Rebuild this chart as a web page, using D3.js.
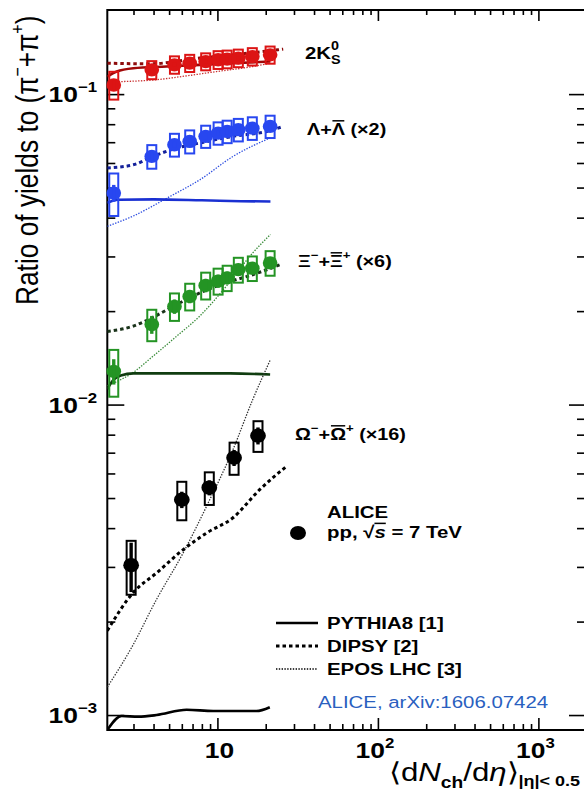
<!DOCTYPE html>
<html>
<head>
<meta charset="utf-8">
<script src="https://cdn.jsdelivr.net/npm/d3@7"></script>
<style>
  html, body { margin: 0; padding: 0; background: #fff; }
  svg text { font-family: "Liberation Sans", Arial, Helvetica, sans-serif; white-space: pre; }
</style>
</head>
<body>
<svg id="chart" width="584" height="792"></svg>
<script>
// ALICE pp at 7 TeV: multiplicity classes, <dNch/deta> in |eta|<0.5
const multClasses  = [2.26, 3.90, 5.40, 6.72, 8.45, 10.1, 11.5, 13.5, 16.5, 21.3];
const omegaClasses = [2.9, 6.0, 8.9, 12.7, 17.9];

// yield ratios to (pi- + pi+), with statistical and systematic uncertainties
const k0sRatio = [0.107, 0.1197, 0.1243, 0.1258, 0.1273, 0.1290, 0.1296, 0.1306, 0.1321, 0.1338];
const k0sStat  = [0.004, 0.002, 0.002, 0.002, 0.002, 0.002, 0.002, 0.002, 0.002, 0.002];
const k0sSyst  = [0.011, 0.008, 0.008, 0.008, 0.008, 0.0085, 0.0085, 0.0085, 0.0085, 0.0085];

const lambdaRatio = [0.048, 0.063, 0.0687, 0.0704, 0.0731, 0.0749, 0.0758, 0.0768, 0.0777, 0.0787];
const lambdaStat  = [0.003, 0.002, 0.0015, 0.0015, 0.0015, 0.0015, 0.0015, 0.0015, 0.0015, 0.0018];
const lambdaSyst  = [0.0075, 0.0055, 0.0058, 0.006, 0.006, 0.0062, 0.0063, 0.0064, 0.0065, 0.0065];

const xiRatio = [0.0128, 0.0181, 0.0207, 0.0223, 0.0242, 0.0250, 0.0256, 0.0272, 0.0275, 0.0286];
const xiStat  = [0.0012, 0.0012, 0.0011, 0.0011, 0.0012, 0.0012, 0.0012, 0.0012, 0.0012, 0.0012];
const xiSyst  = [0.0022, 0.0021, 0.0021, 0.0022, 0.0024, 0.0024, 0.0024, 0.0025, 0.0025, 0.0026];

const omegaRatio = [0.00304, 0.00494, 0.0054, 0.00674, 0.00794];
const omegaStat  = [0.00055, 0.0003, 0.0003, 0.0004, 0.0005];
const omegaSyst  = [0.0006, 0.0007, 0.00065, 0.0008, 0.0009];

// model predictions: [<dNch/deta>, ratio]
const pythiaK0s = [[2.06, 0.1139], [2.36, 0.1182], [2.99, 0.1212], [4.82, 0.1227], [7.78, 0.1242], [12.5, 0.1258], [21.4, 0.1273]];
const dipsyK0s  = [[2.06, 0.1258], [3.79, 0.1252], [7.78, 0.1306], [12.5, 0.1338], [25.7, 0.1396]];
const eposK0s   = [[2.06, 0.1095], [3.96, 0.111], [6.43, 0.1145], [9.88, 0.1182], [16.6, 0.1227], [21.4, 0.1258]];

const pythiaLambda = [[2.06, 0.0447], [2.4, 0.0457], [4.0, 0.0458], [8.0, 0.0455], [14.0, 0.0452], [21.4, 0.0451]];
const dipsyLambda  = [[2.06, 0.0578], [2.99, 0.0592], [3.96, 0.063], [5.57, 0.067], [7.78, 0.0696], [12.5, 0.0731], [20.3, 0.0758], [25.7, 0.0787]];
const eposLambda   = [[2.06, 0.0375], [2.99, 0.0405], [5.06, 0.0468], [7.78, 0.053], [12.5, 0.063], [21.4, 0.0723]];

const pythiaXi = [[2.06, 0.0112], [2.25, 0.0120], [2.5, 0.0124], [3.0, 0.0126], [6.0, 0.0126], [12.0, 0.0126], [21.3, 0.0125]];
const dipsyXi  = [[2.06, 0.0172], [2.99, 0.0179], [3.96, 0.0191], [5.57, 0.021], [7.78, 0.0229], [11.4, 0.0247], [16.6, 0.0262], [24.5, 0.0282]];
const eposXi   = [[2.06, 0.0115], [2.99, 0.0127], [3.96, 0.0143], [5.57, 0.0166], [7.78, 0.0193], [11.4, 0.0241], [16.6, 0.0308], [21.4, 0.0353]];

const pythiaOmega = [[2.06, 0.000895], [2.53, 0.000993], [3.21, 0.000988], [4.18, 0.001], [6.43, 0.00104], [9.42, 0.00103], [17.5, 0.00103], [21.2, 0.00106]];
const dipsyOmega  = [[2.06, 0.00187], [2.99, 0.00248], [4.18, 0.00287], [6.12, 0.00341], [8.57, 0.00386], [12.5, 0.00432], [18.4, 0.00533], [27.0, 0.00633]];
const eposOmega   = [[2.06, 0.00123], [2.92, 0.00165], [4.18, 0.00236], [6.12, 0.00333], [8.57, 0.00471], [12.5, 0.00716], [16.6, 0.01038], [21.4, 0.01396]];

// axis ticks
const yMajorTicks = [0.001, 0.01, 0.1];
const yMajorExp   = ["\u22123", "\u22122", "\u22121"];
const yMinorTicks = [2,3,4,5,6,7,8,9].flatMap(m => [m * 1e-3, m * 1e-2]);
const xMajorTicks = [10, 100, 1000];
const xMajorLabels = [["10", ""], ["10", "2"], ["10", "3"]];
const xMinorTicks = [3,4,5,6,7,8,9].concat([2,3,4,5,6,7,8,9].flatMap(m => [m * 10, m * 100]));

const svg = d3.select("#chart");
const L = 107.3, R = 586, T = 10, B = 730;
const SX = 1.2;   // lettering is drawn wide, like the rest of the figure

const x = d3.scaleLog().domain([2.06, 1980]).range([L, R]);
const y = d3.scaleLog().domain([0.000895, 0.1866]).range([B, T]);

svg.append("defs").append("clipPath").attr("id", "plotArea")
  .append("rect").attr("x", L).attr("y", T).attr("width", R - L).attr("height", B - T);

// ---- axes (ticks pointing into the frame) ----
function tickAxis(axis, transform, size, values) {
  const g = svg.append("g").attr("transform", transform)
    .call(axis.tickValues(values).tickSize(size).tickFormat(""));
  g.select(".domain").remove();
  g.selectAll(".tick line").attr("stroke", "#000").attr("stroke-width", 1.6);
  return g;
}
tickAxis(d3.axisLeft(y), `translate(${L},0)`, -17, yMajorTicks);
tickAxis(d3.axisLeft(y), `translate(${L},0)`, -8, yMinorTicks);
tickAxis(d3.axisRight(y), `translate(${R},0)`, -17, yMajorTicks);
tickAxis(d3.axisRight(y), `translate(${R},0)`, -9, yMinorTicks);
tickAxis(d3.axisBottom(x), `translate(0,${B})`, -12, xMajorTicks);
tickAxis(d3.axisBottom(x), `translate(0,${B})`, -6, xMinorTicks);
tickAxis(d3.axisTop(x), `translate(0,${T})`, -11, xMajorTicks);
tickAxis(d3.axisTop(x), `translate(0,${T})`, -5, xMinorTicks);

svg.append("rect").attr("x", L).attr("y", T).attr("width", R - L).attr("height", B - T)
  .attr("fill", "none").attr("stroke", "#000").attr("stroke-width", 2);

// a widened text anchor point
function wide(x0, y0) {
  return svg.append("g").attr("transform", `translate(${x0},${y0}) scale(${SX},1)`);
}

// y tick labels 10^n
yMajorTicks.forEach((v, i) => {
  const t = wide(97, y(v) + 8).append("text").attr("text-anchor", "end")
    .attr("font-size", 22).attr("font-weight", "bold");
  t.append("tspan").text("10");
  t.append("tspan").attr("dy", -10).attr("font-size", 14).text(yMajorExp[i]);
});
// x tick labels
xMajorTicks.forEach((v, i) => {
  const t = wide(x(v) + (i ? -3 : 2), 758).append("text").attr("text-anchor", "middle")
    .attr("font-size", 22).attr("font-weight", "bold");
  t.append("tspan").text(xMajorLabels[i][0]);
  if (xMajorLabels[i][1]) t.append("tspan").attr("dy", -10).attr("font-size", 14).text(xMajorLabels[i][1]);
});

// text built from pieces: sub/superscripts, italics, overlines
function rich(parent, parts, weight) {
  let cx = 0, lastW = 0;
  parts.forEach(p => {
    const px = p.stack ? cx - lastW : cx + (p.gap || 0);
    const t = parent.append("text").attr("x", px).attr("y", p.dy || 0)
      .attr("font-size", p.fs).attr("font-weight", p.w || weight || "normal")
      .style("font-style", p.it ? "italic" : "normal")
      .attr("fill", p.fill || "#000").text(p.t);
    const w = t.node().getComputedTextLength();
    if (p.over) {
      const oy = (p.dy || 0) - p.fs * 0.86;
      parent.append("line").attr("x1", px + w * (p.ox0 ?? 0.05)).attr("x2", px + w * (p.ox1 ?? 0.95))
        .attr("y1", oy).attr("y2", oy).attr("stroke", "#000").attr("stroke-width", p.fs * 0.09);
    }
    if (p.stack) { cx = Math.max(cx, px + w); }
    else { cx = px + w; lastW = w; }
  });
}

// y-axis title (reads bottom to top)
const yt = svg.append("g").attr("transform", `translate(38,305) rotate(-90) scale(1,${SX})`);
rich(yt, [
  {t: "Ratio of yields to (\u03c0", fs: 26.3},
  {t: "\u2212", fs: 16, dy: -12},
  {t: "+\u03c0", fs: 26.3},
  {t: "+", fs: 16, dy: -12},
  {t: ")", fs: 26.3}
]);

// x-axis title
rich(wide(389, 781), [
  {t: "\u27e8d", fs: 26},
  {t: "N", fs: 26, it: true},
  {t: "ch", fs: 16, dy: 7, w: "bold"},
  {t: "/d", fs: 26},
  {t: "\u03b7", fs: 26, it: true},
  {t: "\u27e9", fs: 26},
  {t: "|\u03b7|< 0.5", fs: 15, dy: 5, w: "bold"}
]);

// ---- model curves ----
const line = d3.line().x(d => x(d[0])).y(d => y(d[1])).curve(d3.curveMonotoneX);
const curves = svg.append("g").attr("clip-path", "url(#plotArea)");
const styles = {
  pythia: {w: 2.6, dash: null},
  dipsy:  {w: 3.0, dash: "3.5,3"},
  epos:   {w: 1.3, dash: "1.4,1.4"}
};
const models = [
  {d: eposK0s, s: "epos", c: "#c83030"},
  {d: dipsyK0s, s: "dipsy", c: "#8e0c0c"},
  {d: pythiaK0s, s: "pythia", c: "#a00808"},
  {d: eposLambda, s: "epos", c: "#2f4fe0"},
  {d: dipsyLambda, s: "dipsy", c: "#13209a"},
  {d: pythiaLambda, s: "pythia", c: "#1a30d2"},
  {d: eposXi, s: "epos", c: "#3a8c3a"},
  {d: dipsyXi, s: "dipsy", c: "#1a331a"},
  {d: pythiaXi, s: "pythia", c: "#103d10"},
  {d: eposOmega, s: "epos", c: "#333"},
  {d: dipsyOmega, s: "dipsy", c: "#000"},
  {d: pythiaOmega, s: "pythia", c: "#000"}
];
models.forEach(m => {
  curves.append("path").datum(m.d).attr("d", line)
    .attr("fill", "none").attr("stroke", m.c)
    .attr("stroke-width", styles[m.s].w)
    .attr("stroke-dasharray", styles[m.s].dash);
});

// ---- measured points ----
const series = [
  {xs: multClasses, v: k0sRatio, st: k0sStat, sy: k0sSyst, c: "#dc1414", r: 7},
  {xs: multClasses, v: lambdaRatio, st: lambdaStat, sy: lambdaSyst, c: "#2847f0", r: 7},
  {xs: multClasses, v: xiRatio, st: xiStat, sy: xiSyst, c: "#249424", r: 7},
  {xs: omegaClasses, v: omegaRatio, st: omegaStat, sy: omegaSyst, c: "#000", r: 7.5}
];
const pts = svg.append("g");
series.forEach(s => {
  s.xs.forEach((xv, i) => {
    const cx = x(xv), v = s.v[i];
    pts.append("rect").attr("x", cx - 4.5).attr("y", y(v + s.sy[i]))
      .attr("width", 9).attr("height", y(v - s.sy[i]) - y(v + s.sy[i]))
      .attr("fill", "none").attr("stroke", s.c).attr("stroke-width", 2);
    pts.append("ellipse").attr("cx", cx).attr("cy", y(v))
      .attr("rx", s.r * 1.05).attr("ry", s.r * 0.95).attr("fill", s.c);
    pts.append("line").attr("x1", cx).attr("x2", cx)
      .attr("y1", y(v - s.st[i])).attr("y2", y(v + s.st[i]))
      .attr("stroke", s.c).attr("stroke-width", 3.4);
  });
});

// ---- particle labels ----
rich(wide(305, 59), [
  {t: "2K", fs: 17},
  {t: "0", fs: 12, dy: -9},
  {t: "S", fs: 12, dy: 5, stack: true}
], "bold");
rich(wide(307, 135), [
  {t: "\u039b+", fs: 16.5},
  {t: "\u039b", fs: 16.5, over: true},
  {t: " (\u00d72)", fs: 16.5}
], "bold");
rich(wide(298, 267), [
  {t: "\u039e", fs: 16.5},
  {t: "\u2212", fs: 11, dy: -8},
  {t: "+", fs: 16.5},
  {t: "\u039e", fs: 16.5, over: true},
  {t: "+", fs: 11, dy: -8},
  {t: " (\u00d76)", fs: 16.5}
], "bold");
rich(wide(295, 440), [
  {t: "\u03a9", fs: 16.5},
  {t: "\u2212", fs: 11, dy: -8},
  {t: "+", fs: 16.5},
  {t: "\u03a9", fs: 16.5, over: true},
  {t: "+", fs: 11, dy: -8},
  {t: " (\u00d716)", fs: 16.5}
], "bold");

// ---- ALICE data legend ----
svg.append("ellipse").attr("cx", 298).attr("cy", 533).attr("rx", 8).attr("ry", 7).attr("fill", "#000");
wide(327, 518).append("text").attr("font-size", 17).attr("font-weight", "bold").text("ALICE");
rich(wide(327, 538), [
  {t: "pp, ", fs: 17},
  {t: "\u221a", fs: 17},
  {t: "s", fs: 17, it: true, over: true, ox0: 0, ox1: 1},
  {t: " = 7 TeV", fs: 17}
], "bold");

// ---- model legend ----
const legendModels = ["pythia", "dipsy", "epos"];
const legendLabels = ["PYTHIA8 [1]", "DIPSY [2]", "EPOS LHC [3]"];
const legendY = [629, 652, 675];
legendModels.forEach((m, i) => {
  svg.append("line").attr("x1", 276).attr("x2", 318)
    .attr("y1", legendY[i] - 6).attr("y2", legendY[i] - 6)
    .attr("stroke", "#000").attr("stroke-width", styles[m].w)
    .attr("stroke-dasharray", styles[m].dash);
  wide(327, legendY[i]).append("text").attr("font-size", 17).attr("font-weight", "bold")
    .text(legendLabels[i]);
});
wide(318, 708).append("text").attr("font-size", 17).attr("fill", "#2a5fbf")
  .text("ALICE, arXiv:1606.07424");
</script>
</body>
</html>
